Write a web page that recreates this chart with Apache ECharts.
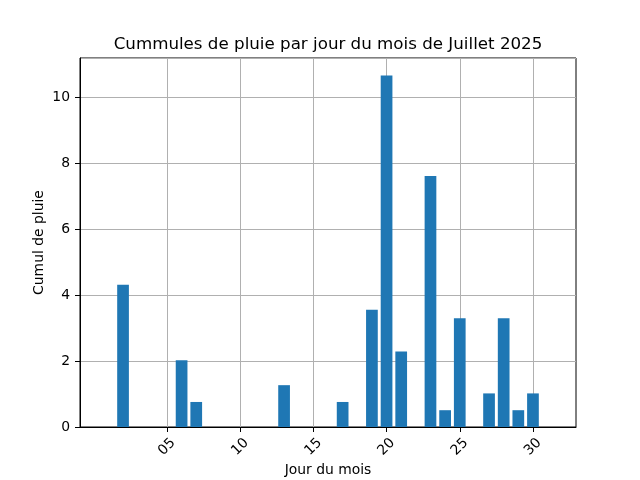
<!DOCTYPE html>
<html>
<head>
<meta charset="utf-8">
<script src="https://cdn.jsdelivr.net/npm/echarts@6/dist/echarts.min.js"></script>
<style>html,body{margin:0;padding:0;background:#fff}#c{width:640px;height:480px}</style>
</head>
<body>
<div id="c"></div>
<script>
var days = [1,2,3,4,5,6,7,8,9,10,11,12,13,14,15,16,17,18,19,20,21,22,23,24,25,26,27,28,29,30,31];
var rain = [0,4.32,0,0,0,2.03,0.76,0,0,0,0,0,1.27,0,0,0,0.76,0,3.56,10.67,2.29,0,7.62,0.51,3.30,0,1.02,3.30,0.51,1.02,0];
var xTicks = [5,10,15,20,25,30];
var yTicks = [0,2,4,6,8,10];
var title = 'Cummules de pluie par jour du mois de Juillet 2025';
var xName = 'Jour du mois';
var yName = 'Cumul de pluie';

var F = 'DejaVu Sans';
var chart = echarts.init(document.getElementById('c'), null, {renderer:'canvas'});
var maxV = Math.max.apply(null, rain) * 1.05;
chart.setOption({
  animation: false,
  title: {text: title, left: 323, textAlign: 'center', top: 31,
    textStyle: {fontFamily: F, fontSize: 16.7, fontWeight: 'normal', color: '#000'}},
  grid: {left: 80, right: 64, top: 58, bottom: 53, show: true, borderColor: '#000', borderWidth: 1,
    containLabel: false, outerBoundsMode: 'none'},
  xAxis: {
    type: 'value', min: 1 - 0.4 - 1.54, max: 31 + 0.4 + 1.54,
    name: xName, nameLocation: 'middle', nameGap: 36, nameMoveOverlap: false,
    nameTextStyle: {fontFamily: F, fontSize: 13.9, color: '#000'},
    axisLine: {show: true, onZero: false, lineStyle: {color: '#000', width: 1}},
    axisTick: {show: true, length: 5, customValues: xTicks, lineStyle: {color: '#000', width: 1}},
    axisLabel: {customValues: xTicks, rotate: 45, align: 'center', verticalAlign: 'middle', margin: 20,
      fontFamily: F, fontSize: 13.9, color: '#000',
      formatter: function(v){ return (v < 10 ? '0' : '') + v; }},
    splitLine: {show: true, customValues: xTicks, lineStyle: {color: '#b0b0b0', width: 1}}
  },
  yAxis: {
    type: 'value', min: 0, max: maxV, interval: 2,
    name: yName, nameLocation: 'middle', nameGap: 34, nameMoveOverlap: false,
    nameTextStyle: {fontFamily: F, fontSize: 13.9, color: '#000'},
    axisLine: {show: true, onZero: false, lineStyle: {color: '#000', width: 1}},
    axisTick: {show: true, length: 5, lineStyle: {color: '#000', width: 1}},
    axisLabel: {margin: 10, fontFamily: F, fontSize: 13.9, color: '#000', showMaxLabel: false,
      formatter: function(v){ return yTicks.indexOf(v) >= 0 ? String(v) : ''; }},
    splitLine: {show: true, lineStyle: {color: '#b0b0b0', width: 1}}
  },
  series: [{
    type: 'bar', barWidth: '80%',
    itemStyle: {color: '#1f77b4'},
    data: days.map(function(d, i){ return [d, rain[i]]; }),
    z: 1
  }]
});
</script>
</body>
</html>
